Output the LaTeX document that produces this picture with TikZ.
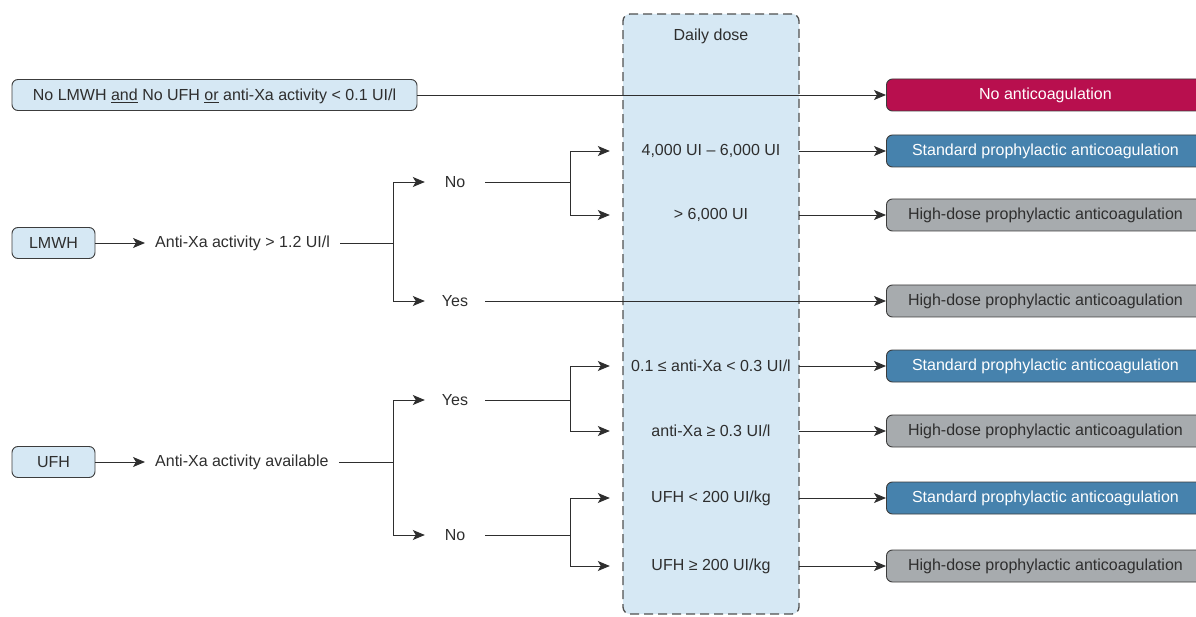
\documentclass[tikz,border=0pt]{standalone}
\usepackage{fontspec}
\setmainfont{Liberation Sans}
\usetikzlibrary{calc,arrows.meta,positioning}

\definecolor{doseblue}{HTML}{D6E8F4}
\definecolor{nored}{HTML}{B80F4E}
\definecolor{stdblue}{HTML}{4682AD}
\definecolor{highgray}{HTML}{A7ABAE}
\definecolor{edgegray}{HTML}{3C3C3C}
\definecolor{txtgray}{HTML}{2E2E2E}

\begin{document}
\begin{tikzpicture}[x=1pt,y=-1pt,font=\fontsize{16}{18}\selectfont,text=txtgray,
  inbox/.style={draw=edgegray,fill=doseblue,rounded corners=6pt,line width=0.9pt,
    minimum height=31pt,minimum width=83pt,inner xsep=10pt,text depth=0pt},
  outbox/.style={draw=edgegray,rounded corners=6pt,line width=0.9pt,
    minimum height=32pt,minimum width=318pt,anchor=west},
  nobox/.style={outbox,fill=nored,text=white},
  stdbox/.style={outbox,fill=stdblue,text=white},
  highbox/.style={outbox,fill=highgray},
  crit/.style={anchor=west,inner xsep=10pt},
  answer/.style={minimum width=60pt,inner sep=0pt},
  dose/.style={minimum width=176pt,inner sep=0pt},
  arr/.style={-{Stealth[length=12pt,width=10pt,inset=3pt]},line width=0.9pt,draw=txtgray},
  line/.style={line width=0.9pt,draw=txtgray}]

  \useasboundingbox (0,0) rectangle (1196,617);

  %% Daily dose column
  \node[draw=edgegray!90,fill=doseblue,dash pattern=on 9pt off 5pt,line width=1.3pt,
    rounded corners=7pt,minimum width=176pt,minimum height=600pt] (DOSE) at (711,314) {};
  \node (DAILY) at (711,36) {Daily dose};

  \foreach \n/\y/\t in {D1/151/{4,000 UI – 6,000 UI},D2/215/{> 6,000 UI},
                        D3/366/{0.1 ≤ anti-Xa < 0.3 UI/l},D4/431/{anti-Xa ≥ 0.3 UI/l},
                        D5/498/{UFH < 200 UI/kg},D6/566/{UFH ≥ 200 UI/kg}}
  {
    \node[dose] (\n) at (711,\y) {\t};
  }

  %% Outcome boxes
  \node[nobox] (R0) at (886,95) {No anticoagulation};
  \foreach \n/\y/\s in {R1/151/stdbox,R2/215/highbox,R3/301/highbox,R4/366/stdbox,
                        R5/431/highbox,R6/498/stdbox,R7/566/highbox}
  {
    \node[\s] (\n) at (886,\y)
    {\ifnum\pdfstrcmp{\s}{stdbox}=0 Standard\else High-dose\fi{} prophylactic anticoagulation};
  }

  %% No heparin
  \node[inbox,minimum width=405pt] (NONE) at (214.5,95)
  {No LMWH \underline{and} No UFH \underline{or} anti-Xa activity < 0.1 UI/l};
  \draw[arr] (NONE.east) -- (R0.west);

  %% LMWH branch
  \node[inbox] (LMWH) at (53.5,243) {LMWH};
  \node[crit] (LCRIT) at (145,243) {Anti-Xa activity > 1.2 UI/l};
  \draw[arr] (LMWH) -- (LCRIT);
  \coordinate (LB) at (393,243);
  \node[answer] (LNO) at (455,182) {No};
  \node[answer] (LYES) at (455,301) {Yes};
  \draw[line] (LCRIT.east) -- (LB);
  \draw[arr] (LB) |- (LNO);
  \draw[arr] (LB) |- (LYES);
  \coordinate (LNB) at (570,182);
  \draw[line] (LNO.east) -- (LNB);
  \draw[arr,shorten >=13pt] (LNB) |- (D1);
  \draw[arr,shorten >=13pt] (LNB) |- (D2);
  \draw[arr] (LYES.east) -- (R3.west);

  %% UFH branch
  \node[inbox] (UFH) at (53.5,462) {UFH};
  \node[crit] (UCRIT) at (145,462) {Anti-Xa activity available};
  \draw[arr] (UFH) -- (UCRIT);
  \coordinate (UB) at (393,462);
  \node[answer] (UYES) at (455,400) {Yes};
  \node[answer] (UNO) at (455,535) {No};
  \draw[line] (UCRIT.east) -- (UB);
  \draw[arr] (UB) |- (UYES);
  \draw[arr] (UB) |- (UNO);
  \coordinate (UYB) at (570,400);
  \coordinate (UNB) at (570,535);
  \draw[line] (UYES.east) -- (UYB);
  \draw[line] (UNO.east) -- (UNB);
  \draw[arr,shorten >=13pt] (UYB) |- (D3);
  \draw[arr,shorten >=13pt] (UYB) |- (D4);
  \draw[arr,shorten >=13pt] (UNB) |- (D5);
  \draw[arr,shorten >=13pt] (UNB) |- (D6);

  %% Dose to outcome
  \foreach \d/\r in {D1/R1,D2/R2,D3/R4,D4/R5,D5/R6,D6/R7}
  {
    \draw[arr] (\d.east) -- (\r.west);
  }

\end{tikzpicture}
\end{document}
